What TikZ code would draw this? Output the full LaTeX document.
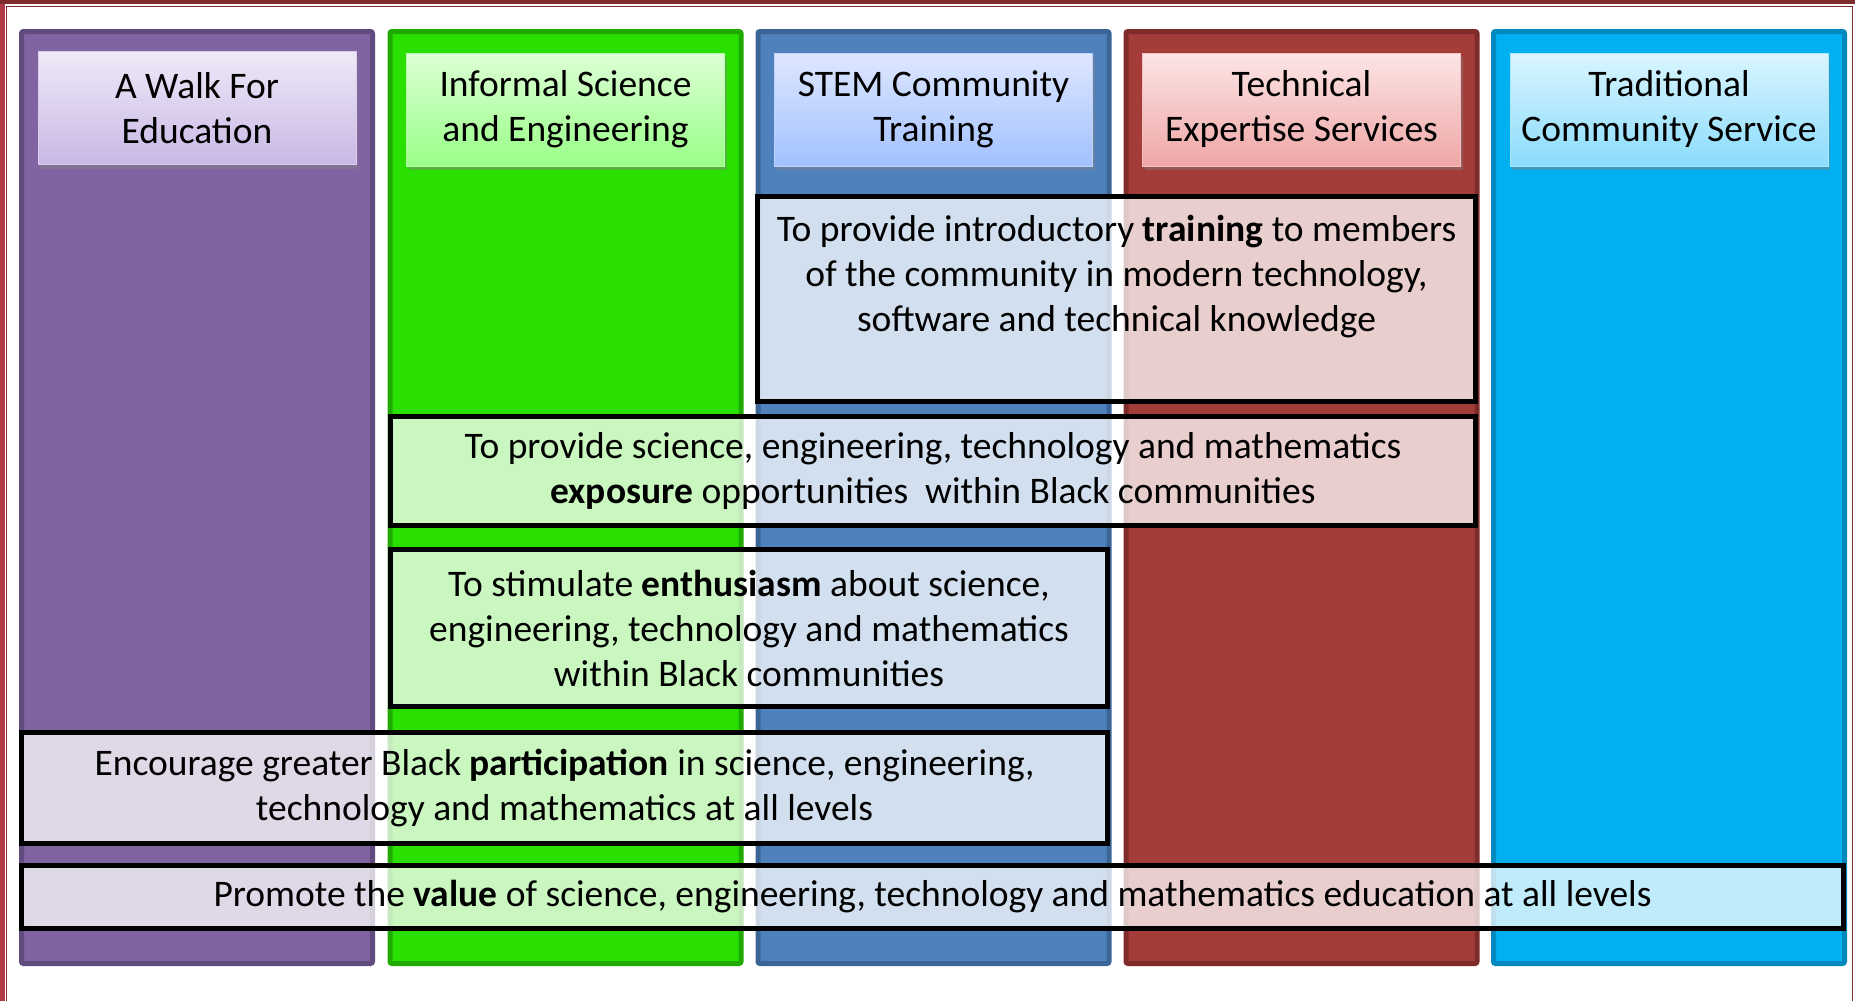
\documentclass[tikz,border=0pt]{standalone}
\usepackage{fontspec}
\setmainfont{Carlito}
\usetikzlibrary{shadows}

\definecolor{walkfill}{HTML}{8064A2}
\definecolor{walkline}{HTML}{5F4B7D}
\definecolor{walktop}{HTML}{EEE9F8}
\definecolor{walkbot}{HTML}{CAB8E5}
\definecolor{informfill}{HTML}{2AE000}
\definecolor{informline}{HTML}{20AA00}
\definecolor{informtop}{HTML}{DEFFD6}
\definecolor{informbot}{HTML}{98FF86}
\definecolor{stemfill}{HTML}{4F81BD}
\definecolor{stemline}{HTML}{3B6597}
\definecolor{stemtop}{HTML}{DEE7FF}
\definecolor{stembot}{HTML}{A2C1FF}
\definecolor{techfill}{HTML}{A43C3A}
\definecolor{techline}{HTML}{7E2B2A}
\definecolor{techtop}{HTML}{FCE5E5}
\definecolor{techbot}{HTML}{EFA6A6}
\definecolor{tradfill}{HTML}{00B0F0}
\definecolor{tradline}{HTML}{0089BF}
\definecolor{tradtop}{HTML}{DAF5FF}
\definecolor{tradbot}{HTML}{8ADCFC}
\definecolor{framered}{HTML}{B23A48}
\definecolor{framedark}{HTML}{7E2B2E}

\tikzset{
  column/.style={draw=#1line, fill=#1fill, line width=5pt, rounded corners=2pt,
    minimum width=351pt, minimum height=932pt, inner sep=0pt},
  header/.style={draw=white!30!#1bot, line width=1pt, top color=#1top, bottom color=#1bot,
    minimum width=318pt, minimum height=113pt, inner sep=0pt, align=center,
    drop shadow={shadow xshift=2pt, shadow yshift=-4pt, opacity=0.45}},
  goal/.style={draw=black, line width=5pt, fill=white, fill opacity=0.75,
    text opacity=1, inner sep=0pt, align=center},
}

\begin{document}
\begin{tikzpicture}[x=1pt, y=-1pt, font=\fontsize{37.5pt}{45pt}\selectfont]

\useasboundingbox (0,0) rectangle (1855,1001);

% page frame
\fill[framered] (0,0) rectangle (4.5,1001);
\fill[framedark] (0,0) rectangle (1855,3.5);
\draw[framedark, line width=1pt] (6.5,1001) -- (6.5,6.5) -- (1852.5,6.5) -- (1852.5,1001);

% the five columns
\node[column=walk]   (walk)   at (197,497.5)    {};
\node[column=inform] (inform) at (565.5,497.5)  {};
\node[column=stem]   (stem)   at (933.5,497.5)  {};
\node[column=tech]   (tech)   at (1301.5,497.5) {};
\node[column=trad]   (trad)   at (1669,497.5)   {};

% column headers
\node[header=walk]   (walkhead)   at (197,108)    {A Walk For\\Education};
\node[header=inform] (informhead) at (565.5,109.5)  {Informal Science\\and Engineering};
\node[header=stem]   (stemhead)   at (933.5,109.5)  {STEM Community\\Training};
\node[header=tech]   (techhead)   at (1301.5,109.5) {Technical\\Expertise Services};
\node[header=trad]   (tradhead)   at (1669,109.5)   {Traditional\\Community Service};

% goals laid over the columns
\node[goal, minimum width=718pt, minimum height=205pt] (training) at (1116.5,299) {};
\node (trainingtext) at (1116.5,276.5) [align=center]
  {To provide introductory \textbf{training} to members\\of the community in modern technology,\\software and technical knowledge};

\node[goal, minimum width=1085pt, minimum height=109pt] (exposure) at (933,471)
  {To provide science, engineering, technology and mathematics\\\textbf{exposure} opportunities\ \ within Black communities};

\node[goal, minimum width=717pt, minimum height=157pt] (enthusiasm) at (749,628)
  {To stimulate \textbf{enthusiasm} about science,\\engineering, technology and mathematics\\within Black communities};

\node[goal, minimum width=1086pt, minimum height=111pt] (participation) at (564.5,788)
  {Encourage greater Black \textbf{participation} in science, engineering,\\technology and mathematics at all levels};

\node[goal, minimum width=1822pt, minimum height=63pt] (value) at (932.5,897)
  {Promote the \textbf{value} of science, engineering, technology and mathematics education at all levels};

\end{tikzpicture}
\end{document}
